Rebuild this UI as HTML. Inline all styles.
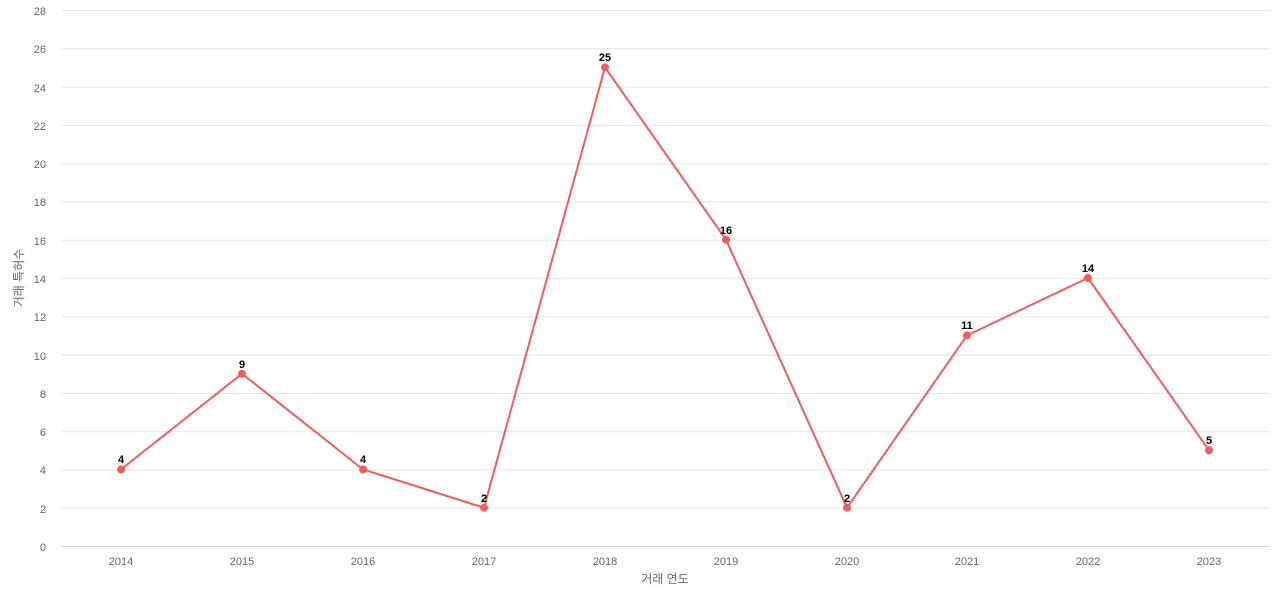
<!DOCTYPE html><html><head><meta charset="utf-8"><style>body{margin:0;background:#fff}svg text{font-family:"Liberation Sans","Noto Sans CJK KR",sans-serif}</style></head><body>
<svg width="1280" height="600" xmlns="http://www.w3.org/2000/svg">
<g stroke="#e6e6e6" stroke-width="1">
<line x1="61" x2="1270" y1="10.5" y2="10.5"/><line x1="61" x2="1270" y1="48.8" y2="48.8"/><line x1="61" x2="1270" y1="87.1" y2="87.1"/><line x1="61" x2="1270" y1="125.4" y2="125.4"/><line x1="61" x2="1270" y1="163.7" y2="163.7"/><line x1="61" x2="1270" y1="202" y2="202"/><line x1="61" x2="1270" y1="240.3" y2="240.3"/><line x1="61" x2="1270" y1="278.6" y2="278.6"/><line x1="61" x2="1270" y1="316.9" y2="316.9"/><line x1="61" x2="1270" y1="355.2" y2="355.2"/><line x1="61" x2="1270" y1="393.5" y2="393.5"/><line x1="61" x2="1270" y1="431.8" y2="431.8"/><line x1="61" x2="1270" y1="470" y2="470"/><line x1="61" x2="1270" y1="508.3" y2="508.3"/>
</g>
<line x1="61" x2="1270" y1="546.5" y2="546.5" stroke="#ccd6eb"/>
<g font-size="11" fill="#666" text-anchor="end">
<text x="46" y="15">28</text><text x="46" y="53">26</text><text x="46" y="92">24</text><text x="46" y="130">22</text><text x="46" y="168">20</text><text x="46" y="206">18</text><text x="46" y="245">16</text><text x="46" y="283">14</text><text x="46" y="321">12</text><text x="46" y="360">10</text><text x="46" y="398">8</text><text x="46" y="436">6</text><text x="46" y="474">4</text><text x="46" y="513">2</text><text x="46" y="551">0</text>
</g>
<g font-size="11" fill="#666" text-anchor="middle">
<text x="121" y="565">2014</text><text x="242" y="565">2015</text><text x="363" y="565">2016</text><text x="484" y="565">2017</text><text x="605" y="565">2018</text><text x="726" y="565">2019</text><text x="847" y="565">2020</text><text x="967" y="565">2021</text><text x="1088" y="565">2022</text><text x="1209" y="565">2023</text>
<text x="665" y="583" font-size="12">거래 연도</text>
<text transform="translate(23,278) rotate(-90)" font-size="12">거래 특허수</text>
</g>
<polyline fill="none" stroke="#f15c5c" stroke-width="2" points="121,469.4 242,373.7 363,469.4 484,507.7 605,67.4 726,239.7 847,507.7 967,335.4 1088,278 1209,450.3"/>
<g fill="#f15c5c">
<circle cx="121" cy="469.4" r="4"/><circle cx="242" cy="373.7" r="4"/><circle cx="363" cy="469.4" r="4"/><circle cx="484" cy="507.7" r="4"/><circle cx="605" cy="67.4" r="4"/><circle cx="726" cy="239.7" r="4"/><circle cx="847" cy="507.7" r="4"/><circle cx="967" cy="335.4" r="4"/><circle cx="1088" cy="278" r="4"/><circle cx="1209" cy="450.3" r="4"/>
</g>
<g font-size="11" font-weight="bold" fill="#000" text-anchor="middle">
<text x="121" y="463">4</text><text x="242" y="368">9</text><text x="363" y="463">4</text><text x="484" y="502">2</text><text x="605" y="61">25</text><text x="726" y="234">16</text><text x="847" y="502">2</text><text x="967" y="329">11</text><text x="1088" y="272">14</text><text x="1209" y="444">5</text>
</g>
</svg></body></html>
